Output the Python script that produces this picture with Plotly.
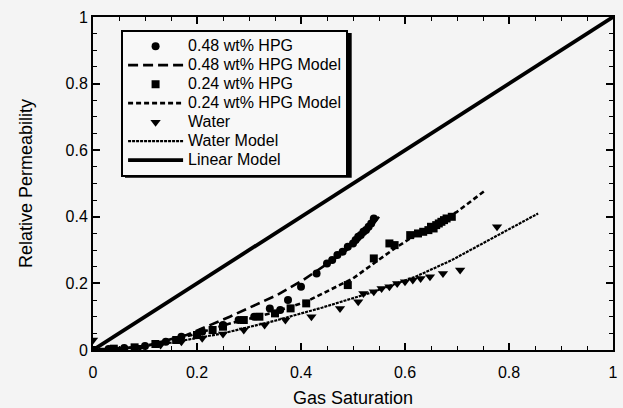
import plotly.graph_objects as go

# ---- data ----
sat_048 = [0.0, 0.03, 0.06, 0.10, 0.14, 0.17, 0.21, 0.25, 0.28, 0.31, 0.34, 0.36, 0.375, 0.40, 0.43,
           0.45, 0.46, 0.47, 0.48, 0.49, 0.50, 0.505, 0.51, 0.515, 0.52, 0.525, 0.53, 0.535, 0.54]
kr_048 = [0.0, 0.003, 0.006, 0.012, 0.025, 0.04, 0.055, 0.075, 0.09, 0.10, 0.125, 0.12, 0.15, 0.19, 0.23,
          0.26, 0.27, 0.285, 0.295, 0.31, 0.32, 0.33, 0.34, 0.345, 0.355, 0.36, 0.37, 0.38, 0.395]

model_048_sat = [0.0, 0.05, 0.10, 0.18, 0.263, 0.354, 0.404, 0.443, 0.48, 0.508, 0.53, 0.55]
model_048_kr = [0.0, 0.003, 0.012, 0.045, 0.10, 0.165, 0.21, 0.25, 0.29, 0.325, 0.36, 0.40]

sat_024 = [0.0, 0.04, 0.08, 0.12, 0.16, 0.20, 0.23, 0.25, 0.29, 0.32, 0.35, 0.38, 0.41, 0.49, 0.54,
           0.57, 0.58, 0.61, 0.625, 0.635, 0.645, 0.65, 0.655, 0.66, 0.665, 0.67, 0.675, 0.68, 0.69]
kr_024 = [0.0, 0.004, 0.008, 0.018, 0.03, 0.045, 0.06, 0.07, 0.09, 0.10, 0.11, 0.125, 0.14, 0.195, 0.275,
          0.32, 0.315, 0.345, 0.35, 0.355, 0.36, 0.37, 0.365, 0.375, 0.38, 0.385, 0.39, 0.395, 0.40]

model_024_sat = [0.0, 0.05, 0.10, 0.19, 0.26, 0.34, 0.41, 0.46, 0.50, 0.54, 0.58, 0.62, 0.66, 0.70, 0.755]
model_024_kr = [0.0, 0.003, 0.012, 0.045, 0.078, 0.11, 0.145, 0.185, 0.215, 0.26, 0.305, 0.345, 0.38, 0.415, 0.48]

sat_water = [0.0, 0.02, 0.05, 0.09, 0.13, 0.17, 0.21, 0.25, 0.29, 0.33, 0.37, 0.42, 0.475, 0.51, 0.52,
             0.54, 0.555, 0.57, 0.585, 0.60, 0.615, 0.63, 0.648, 0.673, 0.706, 0.777]
kr_water = [0.03, 0.0, 0.003, 0.008, 0.015, 0.025, 0.035, 0.048, 0.06, 0.075, 0.09, 0.10, 0.125, 0.145, 0.17,
            0.175, 0.185, 0.19, 0.20, 0.205, 0.21, 0.215, 0.22, 0.23, 0.24, 0.37]

model_water_sat = [0.0, 0.06, 0.15, 0.25, 0.35, 0.44, 0.53, 0.62, 0.69, 0.78, 0.856]
model_water_kr = [0.0, 0.005, 0.022, 0.05, 0.088, 0.127, 0.17, 0.22, 0.27, 0.345, 0.41]

linear_sat = [0.0, 1.0]
linear_kr = [0.0, 1.0]

x_title = "Gas Saturation"
y_title = "Relative Permeability"

FONT = "Liberation Sans, Arial, Helvetica, sans-serif"
BG = "#f4f4f4"


def lg(name):
    return "<span style='font-size:16px'>" + name + "</span>"


fig = go.Figure()

# model lines
fig.add_trace(go.Scatter(x=linear_sat, y=linear_kr, mode="lines", name=lg("Linear Model"),
                         line=dict(color="black", width=3.8), legendrank=7))
fig.add_trace(go.Scatter(x=model_water_sat, y=model_water_kr, mode="lines", name=lg("Water Model"),
                         line=dict(color="black", width=2.2, dash="3px,1px"), legendrank=6))
fig.add_trace(go.Scatter(x=model_024_sat, y=model_024_kr, mode="lines", name=lg("0.24 wt% HPG Model"),
                         line=dict(color="black", width=2.6, dash="5px,3px"), legendrank=4))
fig.add_trace(go.Scatter(x=model_048_sat, y=model_048_kr, mode="lines", name=lg("0.48 wt% HPG Model"),
                         line=dict(color="black", width=2.6, dash="10px,5px"), legendrank=2))

# data markers
fig.add_trace(go.Scatter(x=sat_048, y=kr_048, mode="markers", name=lg("0.48 wt% HPG"),
                         marker=dict(symbol="circle", size=8, color="black"), legendrank=1))
fig.add_trace(go.Scatter(x=sat_024, y=kr_024, mode="markers", name=lg("0.24 wt% HPG"),
                         marker=dict(symbol="square", size=8, color="black"), legendrank=3))
fig.add_trace(go.Scatter(x=sat_water, y=kr_water, mode="markers", name=lg("Water"),
                         marker=dict(symbol="triangle-down", size=9, color="black"), legendrank=5))

axis_common = dict(
    range=[0, 1], dtick=0.2, tick0=0,
    showline=True, linecolor="black", linewidth=2, mirror="allticks",
    ticks="inside", ticklen=7, tickwidth=1.5, tickcolor="black",
    minor=dict(dtick=0.05, ticks="inside", ticklen=4, tickwidth=1.2, tickcolor="black"),
    showgrid=False, zeroline=False, automargin=False,
    tickfont=dict(family=FONT, size=16, color="black"),
)

fig.update_layout(
    width=623, height=408,
    margin=dict(l=93, r=10, t=17, b=58),
    paper_bgcolor=BG, plot_bgcolor=BG,
    showlegend=True,
    legend=dict(
        x=0.054, y=0.962, xanchor="left", yanchor="top",
        bgcolor="#f8f8f8", bordercolor="black", borderwidth=2,
        font=dict(family=FONT, size=12, color="black"),
        itemwidth=55, tracegroupgap=0,
    ),
    # drop shadow behind the legend box
    shapes=[dict(type="rect", xref="paper", yref="paper", layer="above",
                 x0=0.0615, x1=0.4975, y0=0.517, y1=0.952,
                 fillcolor="black", line=dict(width=0))],
    xaxis=dict(**axis_common, ticklabelstandoff=7,
               title=dict(text=x_title, font=dict(family=FONT, size=18, color="black"), standoff=14)),
    yaxis=dict(**axis_common,
               title=dict(text=y_title, font=dict(family=FONT, size=18, color="black"), standoff=28)),
)

fig.write_html(
    "out.html",
    config={"displayModeBar": False},
    post_script="document.body.style.margin='0';document.body.style.background='#f4f4f4';",
)
